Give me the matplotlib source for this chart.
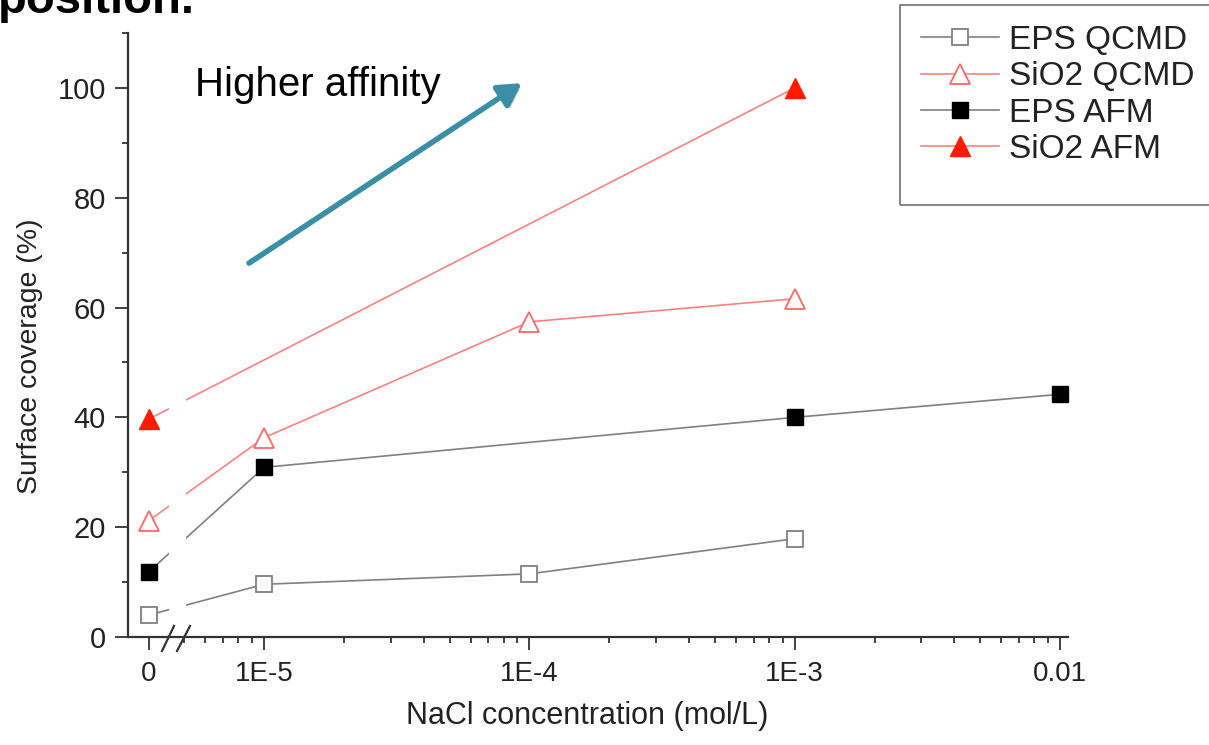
import numpy as np
import matplotlib
matplotlib.use("Agg")
import matplotlib.pyplot as plt
from matplotlib.ticker import FixedLocator, FixedFormatter, NullFormatter
from matplotlib.lines import Line2D
from matplotlib.patches import Rectangle
import matplotlib.patheffects as pe

plt.rcParams['font.family'] = ['Liberation Sans', 'DejaVu Sans']

# ---------------- data ----------------
conc_eps_qcmd = [0, 1e-5, 1e-4, 1e-3]
eps_qcmd = [4.0, 9.6, 11.5, 17.9]

conc_sio2_qcmd = [0, 1e-5, 1e-4, 1e-3]
sio2_qcmd = [21.2, 36.3, 57.4, 61.6]

conc_eps_afm = [0, 1e-5, 1e-3, 1e-2]
eps_afm = [11.9, 30.9, 40.0, 44.2]

conc_sio2_afm = [0, 1e-3]
sio2_afm = [39.7, 100.0]

xtick_vals = [0, 1e-5, 1e-4, 1e-3, 1e-2]
xtick_labels = ['0', '1E-5', '1E-4', '1E-3', '0.01']
ytick_vals = [0, 20, 40, 60, 80, 100]

# ---------------- scale: 0 placed left of a broken log axis ----------------
U0 = -5.434  # position (in decades) used for the value 0


def fwd(x):
    x = np.asarray(x, dtype=float)
    safe = np.where(x > 0, x, 1.0)
    return np.where(x > 0, np.log10(safe), U0)


def inv(u):
    return 10.0 ** np.asarray(u, dtype=float)


W, H = 1209, 745
fig = plt.figure(figsize=(W / 100, H / 100), dpi=100)
ax = fig.add_axes([128 / W, 1 - 637 / H, (1068 - 128) / W, (637 - 33) / H])
ax.set_xscale('function', functions=(fwd, inv))

grey = '#808080'
pink = '#ff8080'
lw = 1.2

l1, = ax.plot(conc_eps_qcmd, eps_qcmd, color=grey, lw=lw, marker='s', ms=11,
              mfc='white', mec=grey, mew=1.3, label='EPS QCMD', clip_on=False)
l2, = ax.plot(conc_sio2_qcmd, sio2_qcmd, color=pink, lw=lw, marker='^', ms=14,
              mfc='white', mec='#ff6666', mew=1.3, label='SiO2 QCMD', clip_on=False)
l3, = ax.plot(conc_eps_afm, eps_afm, color=grey, lw=lw, marker='s', ms=11,
              mfc='black', mec='black', mew=1.0, label='EPS AFM', clip_on=False)
l4, = ax.plot(conc_sio2_afm, sio2_afm, color=pink, lw=lw, marker='^', ms=14,
              mfc='#ff1a00', mec='#ff1a00', mew=1.0, label='SiO2 AFM', clip_on=False)

ax.set_xlim(inv(-5.513), inv(-1.970))
ax.set_ylim(0, 110)

# gap in the lines at the axis break
ax.axvspan(inv(-5.357), inv(-5.296), ymin=0.004, ymax=1, color='white', zorder=2.2, lw=0)

# ticks
ax.xaxis.set_major_locator(FixedLocator(xtick_vals))
ax.xaxis.set_major_formatter(FixedFormatter(xtick_labels))
minor_x = [k * 10.0 ** e for e in range(-6, -2) for k in range(2, 10)]
minor_x = [v for v in minor_x if 4.9e-6 <= v <= 1e-2]
ax.xaxis.set_minor_locator(FixedLocator(minor_x))
ax.xaxis.set_minor_formatter(NullFormatter())

ax.yaxis.set_major_locator(FixedLocator(ytick_vals))
ax.yaxis.set_minor_locator(FixedLocator([10, 30, 50, 70, 90, 110]))

txtc = '#222222'
spc = '#333333'
ax.tick_params(axis='both', which='major', direction='out', length=9.5, width=1.3,
               color=spc, labelcolor=txtc)
ax.tick_params(axis='x', which='major', labelsize=20, pad=8)
ax.tick_params(axis='y', which='major', labelsize=21, pad=6.5)
ax.tick_params(axis='both', which='minor', direction='out', length=4.5, width=1.3, color=spc)

for s in ['top', 'right']:
    ax.spines[s].set_visible(False)
for s in ['left', 'bottom']:
    ax.spines[s].set_color(spc)
    ax.spines[s].set_linewidth(1.6)

ax.set_xlabel('NaCl concentration (mol/L)', fontsize=22, color=txtc)
ax.set_ylabel('Surface coverage (%)', fontsize=20.5, color=txtc)
ax.xaxis.set_label_coords(0.489, -0.106)
ax.yaxis.set_label_coords(-0.0905, 0.464)

# break marks on the x axis
for (x0, y0, x1, y1) in [(162, 651, 174, 626), (177, 651, 190, 626)]:
    fig.add_artist(Line2D([x0 / W, x1 / W], [1 - y0 / H, 1 - y1 / H],
                          transform=fig.transFigure, color=spc, lw=1.6))

# arrow + annotation text
ax.annotate('', xy=(0.419, 0.917), xytext=(0.1287, 0.619),
            xycoords='axes fraction', textcoords='axes fraction',
            arrowprops=dict(arrowstyle='-|>,head_length=0.85,head_width=0.48',
                            color='#3a8fa5', lw=4, mutation_scale=16, shrinkA=0, shrinkB=0,
                            path_effects=[pe.SimplePatchShadow(offset=(2, -2), alpha=0.25),
                                          pe.Normal()]))
ax.text(0.0713, 0.914, 'Higher affinity', transform=ax.transAxes, fontsize=29,
        color='black', va='center', ha='left')

# cut-off title at top-left (cropped in the original too)
fig.text(-2 / W, 1 - 13 / H, 'position.', fontsize=34, fontweight='bold',
         ha='left', va='baseline', color='black')

# legend with manual frame
fig.add_artist(Rectangle((900 / W, 1 - 205 / H), 330 / W, 200 / H,
                         transform=fig.transFigure, fill=False, ec='#707070', lw=1.2))
fig.legend(handles=[l1, l2, l3, l4], loc='upper left',
           bbox_to_anchor=(921 / W, 1 - 25 / H), frameon=False,
           fontsize=24, handlelength=2.35, handletextpad=0.3, labelspacing=0.16,
           borderpad=0, borderaxespad=0, labelcolor=txtc)

fig.savefig('out.png', dpi=100)
